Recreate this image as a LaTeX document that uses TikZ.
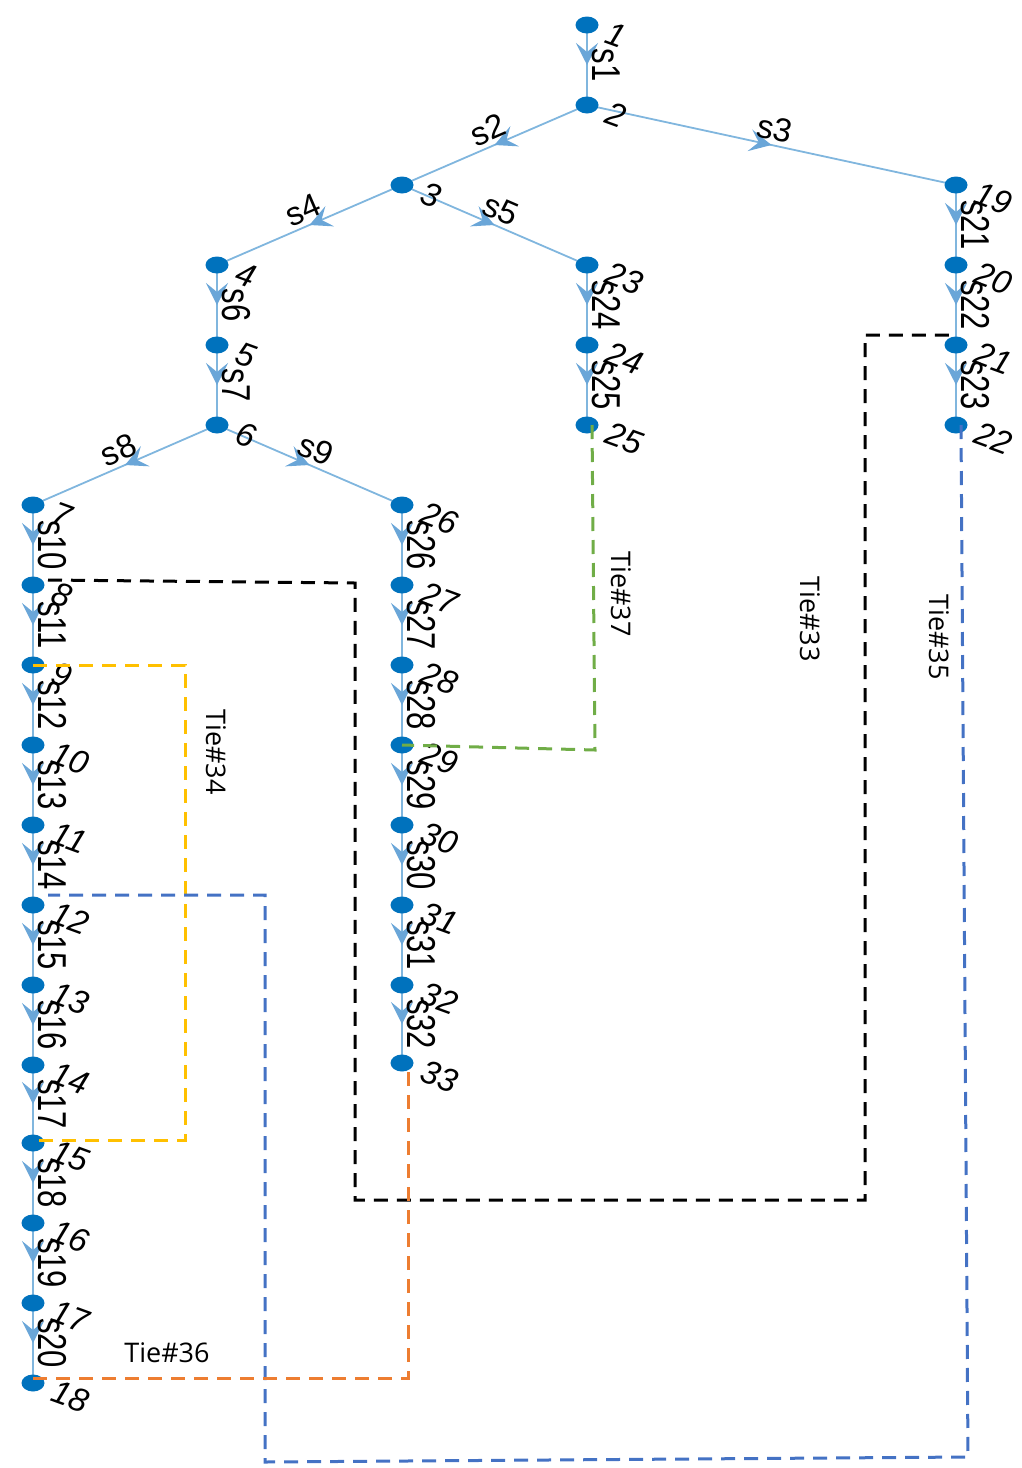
\documentclass[tikz,border=0pt]{standalone}
\usepackage{graphicx}
\usepackage{fontspec}
\setmainfont{Liberation Sans}
\newfontfamily\tiefont{Open Sans}
\usetikzlibrary{arrows.meta,decorations.markings,backgrounds,shapes.geometric}
\definecolor{nodeblue}{HTML}{0072BD}
\definecolor{edgeblue}{HTML}{80B6DE}
\definecolor{arrowblue}{HTML}{6AA6D8}
\definecolor{tieyellow}{HTML}{FFC000}
\definecolor{tieblue}{HTML}{4472C4}
\definecolor{tieorange}{HTML}{ED7D31}
\definecolor{tiegreen}{HTML}{70AD47}
\newcommand{\tallt}[1]{\scalebox{1}[1.3]{#1}}
\begin{document}
\begin{tikzpicture}[x=1pt,y=-1pt,
  vtx/.style={ellipse, fill=nodeblue, draw=none, inner sep=0pt, minimum width=23pt, minimum height=17pt},
  edge/.style={draw=edgeblue, line width=1.8pt, postaction={decorate},
    decoration={markings, mark=at position 0.5 with {\arrow{Stealth[length=22pt,width=22pt,inset=9pt,color=arrowblue]}}}},
  vlab/.style={midway, rotate=-90, anchor=south, inner sep=4pt, font=\fontsize{31}{31}\selectfont},
  slab/.style={midway, sloped, above, inner sep=4pt, font=\fontsize{33}{33}\selectfont},
  nl/.style={anchor=west, rotate=-20, inner sep=0pt, font=\fontsize{33}{33}\selectfont\itshape},
  tiel/.style={inner sep=0pt, font=\tiefont\fontsize{27}{27}\selectfont},
  tie/.style={line width=3pt, dash pattern=on 14pt off 9pt}
]
\useasboundingbox (0,0) rectangle (1021,1468);
% vertices
\foreach \n/\x/\y in {1/587/25, 2/587/105, 3/402/185, 4/217/265, 5/217/345, 6/217/425,
  7/33/505, 8/33/585, 9/33/665, 10/33/745, 11/33/825, 12/33/905, 13/33/985, 14/33/1065,
  15/33/1143, 16/33/1223, 17/33/1303, 18/33/1383,
  19/956/185, 20/956/265, 21/956/345, 22/956/425,
  23/587/265, 24/587/345, 25/587/425,
  26/402/505, 27/402/585, 28/402/665, 29/402/745, 30/402/825, 31/402/905, 32/402/985, 33/402/1063}
{
  \node[vtx] (n\n) at (\x,\y) {};
  \node[nl] at ([shift={(20,7)}]n\n.center) {\n};
}
% edges
\begin{pgfonlayer}{background}
\foreach \a/\b/\s in {1/2/1, 4/5/6, 5/6/7, 7/8/10, 8/9/11, 9/10/12, 10/11/13, 11/12/14, 12/13/15,
  13/14/16, 14/15/17, 15/16/18, 16/17/19, 17/18/20, 19/20/21, 20/21/22, 21/22/23,
  23/24/24, 24/25/25, 26/27/26, 27/28/27, 28/29/28, 29/30/29, 30/31/30, 31/32/31, 32/33/32}
{
  \draw[edge] (n\a.center) -- node[vlab] {\tallt{s\s}} (n\b.center);
}
\foreach \a/\b/\s in {2/3/2, 2/19/3, 3/4/4, 3/23/5, 6/7/8, 6/26/9}
{
  \draw[edge] (n\a.center) -- node[slab] {s\s} (n\b.center);
}
\end{pgfonlayer}
% ties
\draw[tie, black] ([shift={(15,-5)}]n8.center) -- (355,583) -- (355,1200) -- (865,1200) -- (865,335) -- ([yshift=10pt]n21.center);
\draw[tie, tieyellow] (n9.center) -- (185,665) -- (185,1140) -- ([yshift=3pt]n15.center);
\draw[tie, tieblue] ([xshift=5pt]n22.center) -- (968,1457) -- (265,1462) -- (265,895) -- ([shift={(15,-10)}]n12.center);
\draw[tie, tieorange] ([yshift=5pt]n18.center) -- (408,1378) -- ([xshift=6pt]n33.center);
\draw[tie, tiegreen] ([xshift=5pt]n25.center) -- (595,750) -- (n29.center);
% tie labels
\node[tiel, rotate=-90] (t33) at (810,619) {Tie\#33};
\node[tiel, rotate=-90] (t34) at (216,752) {Tie\#34};
\node[tiel, rotate=-90] (t35) at (939,637) {Tie\#35};
\node[tiel] (t36) at (167,1353) {Tie\#36};
\node[tiel, rotate=-90] (t37) at (621,594) {Tie\#37};
\end{tikzpicture}
\end{document}
